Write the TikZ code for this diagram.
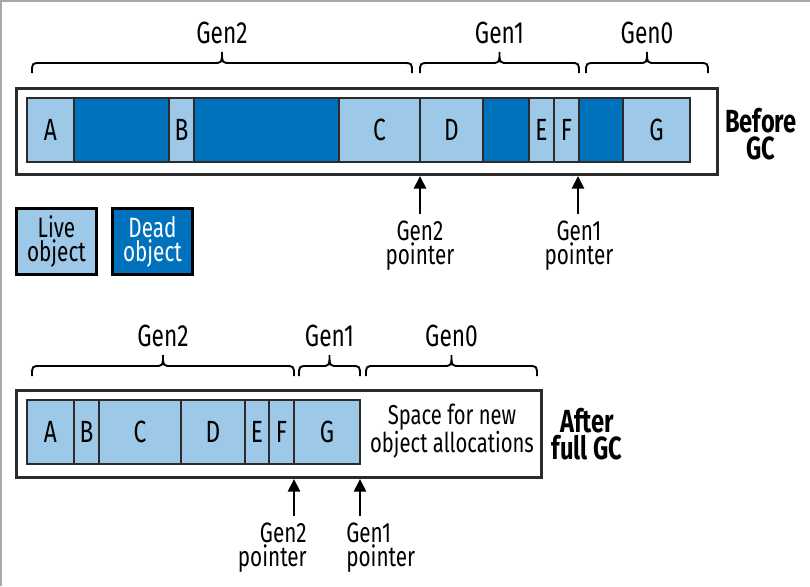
\documentclass[tikz,border=0pt]{standalone}
\usepackage{fontspec}
\setmainfont{Fira Sans}[FakeStretch=0.74]
\usetikzlibrary{arrows.meta}
\definecolor{livec}{HTML}{9DC8E7}
\definecolor{deadc}{HTML}{0071BC}
\definecolor{edgec}{HTML}{2B2B2B}
\definecolor{framec}{HTML}{A8A8A8}
\newcommand\gccell[6]{% style, name, x1, x2, ytop, text
  \node[#1, anchor=north west, minimum width={(#4-#3)*0.75pt}] (#2) at (#3,#5) {#6};}
\newcommand\gcbrace[5]{% name, x1, x2, yb, label
  \pgfmathsetmacro\bxm{(#2+#3)/2}
  \draw[bracestyle] (#2,#4) .. controls (#2,#4-10) .. (#2+9,#4-10)
    -- (\bxm-9,#4-10) .. controls (\bxm,#4-10) .. (\bxm,#4-21)
    .. controls (\bxm,#4-10) .. (\bxm+9,#4-10)
    -- (#3-9,#4-10) .. controls (#3,#4-10) .. (#3,#4);
  \node[genlbl] (#1) at (\bxm,#4-40) {#5};}
\begin{document}
\begin{tikzpicture}[x=0.75pt,y=-0.75pt,
  cellbase/.style={draw=edgec, line width=1.5pt, inner sep=0pt, outer sep=0pt,
    minimum height=48pt, font=\fontsize{23}{23}\selectfont},
  livecell/.style={cellbase, fill=livec},
  deadcell/.style={cellbase, fill=deadc},
  outerbox/.style={draw=edgec, line width=2pt, fill=white, inner sep=0pt, anchor=north west},
  bracestyle/.style={draw=black, line width=1.4pt},
  genlbl/.style={font=\fontsize{23}{23}\selectfont, inner sep=0pt},
  ptrtxt/.style={font=\fontsize{21}{17.5}\selectfont, inner sep=0pt},
  ptr/.style={line width=2.1pt, -{Triangle[width=9pt,length=9.5pt]}},
  bigbold/.style={font=\fontsize{24}{20}\selectfont\bfseries, align=center, inner sep=0pt},
  legendbox/.style={draw=black, line width=2.2pt, inner sep=0pt, anchor=north west,
    minimum width=60pt, minimum height=49.5pt, align=center,
    font=\fontsize{21}{18}\selectfont}
  ]
\useasboundingbox (0,0) rectangle (810,586);
\fill[white] (0,0) rectangle (810,586);
\draw[framec, line width=1.2pt] (1,586) -- (1,1) -- (810,1);

% ---------- Before GC ----------
\node[outerbox, minimum width={701*0.75pt}, minimum height={86*0.75pt}] (top) at (15,87) {};
\gccell{livecell}{ta}{27}{74}{98}{A}
\gccell{deadcell}{td1}{74}{169}{98}{}
\gccell{livecell}{tb}{169}{194}{98}{B}
\gccell{deadcell}{td2}{194}{339}{98}{}
\gccell{livecell}{tc}{339}{420}{98}{C}
\gccell{livecell}{td}{420}{483}{98}{D}
\gccell{deadcell}{td3}{483}{529}{98}{}
\gccell{livecell}{te}{529}{554}{98}{E}
\gccell{livecell}{tf}{554}{579}{98}{F}
\gccell{deadcell}{td4}{579}{623}{98}{}
\gccell{livecell}{tg}{623}{690}{98}{G}

\gcbrace{tgen2}{32}{412}{73}{Gen2}
\gcbrace{tgen1}{420}{579}{73}{Gen1}
\gcbrace{tgen0}{586}{708}{73}{Gen0}

\node[bigbold] (before) at (761,134) {Before\\GC};

\node[ptrtxt, align=center, anchor=north] (tp2) at (420,221) {Gen2\\pointer};
\node[ptrtxt, align=center, anchor=north] (tp1) at (579,221) {Gen1\\pointer};
\coordinate (tp2a) at (420,214);
\coordinate (tp2b) at (420,176);
\coordinate (tp1a) at (578,214);
\coordinate (tp1b) at (578,176);
\draw[ptr] (tp2a) -- (tp2b);
\draw[ptr] (tp1a) -- (tp1b);

% ---------- Legend ----------
\node[legendbox, fill=livec] (live) at (15,207) {Live\\object};
\node[legendbox, fill=deadc, text=white] (dead) at (111,207) {Dead\\object};

% ---------- After full GC ----------
\node[outerbox, minimum width={525*0.75pt}, minimum height={87*0.75pt}] (bot) at (15,389) {};
\gccell{livecell}{ba}{27}{74}{400}{A}
\gccell{livecell}{bb}{74}{99}{400}{B}
\gccell{livecell}{bc}{99}{181}{400}{C}
\gccell{livecell}{bd}{181}{245}{400}{D}
\gccell{livecell}{be}{245}{269}{400}{E}
\gccell{livecell}{bf}{269}{294}{400}{F}
\gccell{livecell}{bg}{294}{360}{400}{G}

\node[ptrtxt, align=center, font=\fontsize{20.5}{17.5}\selectfont] (space) at (452,431) {Space for new\\object allocations};

\gcbrace{bgen2}{32}{294}{376}{Gen2}
\gcbrace{bgen1}{299}{360}{376}{Gen1}
\gcbrace{bgen0}{366}{537}{376}{Gen0}

\node[bigbold] (after) at (587,434) {After\\full GC};

\node[ptrtxt, align=right, anchor=north east] (bp2) at (307,523) {Gen2\\pointer};
\node[ptrtxt, align=left, anchor=north west] (bp1) at (346,523) {Gen1\\pointer};
\coordinate (bp2a) at (294,516);
\coordinate (bp2b) at (294,479);
\coordinate (bp1a) at (360,516);
\coordinate (bp1b) at (360,479);
\draw[ptr] (bp2a) -- (bp2b);
\draw[ptr] (bp1a) -- (bp1b);
\end{tikzpicture}
\end{document}
